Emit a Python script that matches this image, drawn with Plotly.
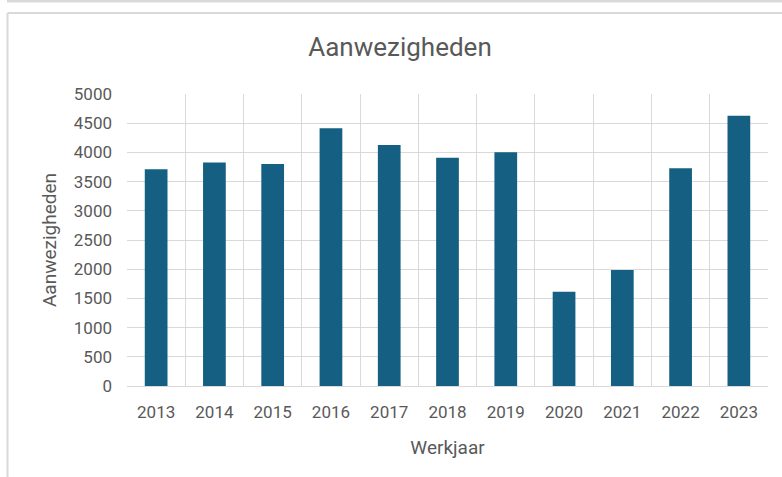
import plotly.graph_objects as go

years = ["2013", "2014", "2015", "2016", "2017", "2018", "2019", "2020", "2021", "2022", "2023"]
aanwezigheden = [3710, 3825, 3800, 4413, 4127, 3909, 4001, 1612, 1988, 3727, 4628]
y_ticks = [0, 500, 1000, 1500, 2000, 2500, 3000, 3500, 4000, 4500, 5000]

W, H = 782, 477
L, R, T, B = 127, 14, 94, 91
pw, ph = W - L - R, H - T - B

def px_x(px):
    return (px - L) / pw

def px_y(py):
    return (H - B - py) / ph

text_col = "#595959"
grid_col = "#d9d9d9"
font_fam = "Roboto, Liberation Sans, sans-serif"

fig = go.Figure(go.Bar(x=years, y=aanwezigheden, marker=dict(color="#156082", line=dict(width=0))))

fig.update_layout(
    width=W, height=H,
    margin=dict(l=L, r=R, t=T, b=B),
    paper_bgcolor="white", plot_bgcolor="white",
    bargap=0.61,
    showlegend=False,
    font=dict(family=font_fam, color=text_col),
    title=dict(text="Aanwezigheden", x=400 / W, xref="container", xanchor="center",
               y=1 - 47 / H, yref="container", yanchor="middle",
               font=dict(size=26, color=text_col, family=font_fam)),
    xaxis=dict(
        type="category", tickson="boundaries", showgrid=True, gridcolor=grid_col, gridwidth=1.4,
        showline=True, linecolor=grid_col, linewidth=1.4, ticks="",
        tickfont=dict(size=17, color=text_col), ticklabelstandoff=10,
        title=dict(text="Werkjaar", font=dict(size=19, color=text_col), standoff=20),
    ),
    yaxis=dict(
        range=[0, 5000], tickvals=y_ticks, showgrid=True, gridcolor=grid_col, gridwidth=1.4,
        zeroline=False, ticks="", tickfont=dict(size=17, color=text_col), ticklabelstandoff=14,
        title=dict(text="Aanwezigheden", font=dict(size=19, color=text_col), standoff=12),
    ),
    shapes=[
        dict(type="line", xref="paper", yref="paper", x0=px_x(7), x1=px_x(782), y0=px_y(1), y1=px_y(1),
             line=dict(color=grid_col, width=3)),
        dict(type="line", xref="paper", yref="paper", x0=px_x(7.5), x1=px_x(782), y0=px_y(13), y1=px_y(13),
             line=dict(color=grid_col, width=2)),
        dict(type="line", xref="paper", yref="paper", x0=px_x(7.5), x1=px_x(7.5), y0=px_y(13), y1=px_y(477),
             line=dict(color=grid_col, width=2)),
    ],
)

fig.write_html("out.html", config={"displayModeBar": False},
               post_script="document.body.style.margin='0px';document.body.style.overflow='hidden';")
